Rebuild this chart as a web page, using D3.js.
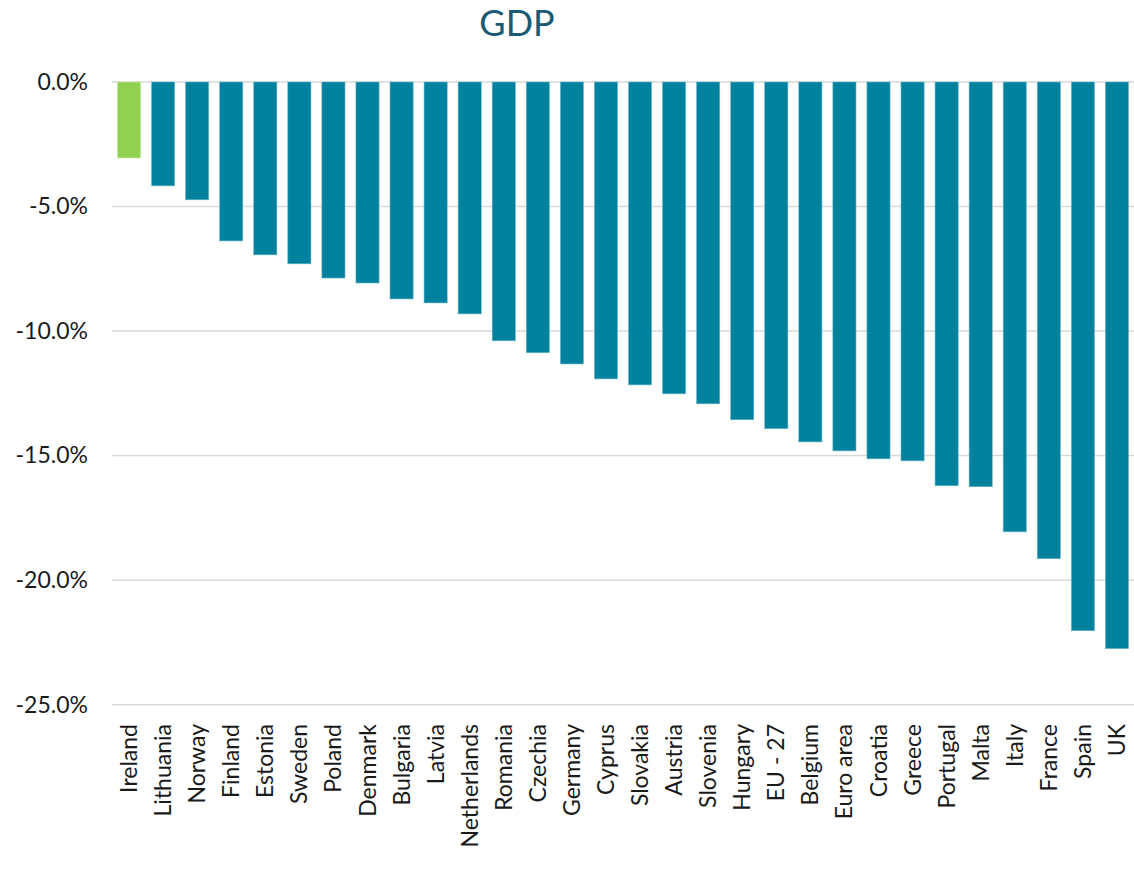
<!DOCTYPE html>
<html>
<head>
<meta charset="utf-8">
<script src="https://cdn.jsdelivr.net/npm/d3@7"></script>
<style>
  html, body { margin: 0; padding: 0; background: #fff; }
  svg { display: block; font-family: Lato, "Open Sans", sans-serif; }
</style>
</head>
<body>
<svg id="chart" width="1134" height="874"></svg>
<script>
// GDP change by country (%)
const countries = ["Ireland","Lithuania","Norway","Finland","Estonia","Sweden","Poland","Denmark","Bulgaria","Latvia","Netherlands","Romania","Czechia","Germany","Cyprus","Slovakia","Austria","Slovenia","Hungary","EU - 27","Belgium","Euro area","Croatia","Greece","Portugal","Malta","Italy","France","Spain","UK"];
const gdpChange = [-3.05,-4.17,-4.73,-6.38,-6.94,-7.30,-7.87,-8.07,-8.71,-8.87,-9.31,-10.39,-10.87,-11.32,-11.92,-12.16,-12.52,-12.92,-13.56,-13.92,-14.45,-14.81,-15.13,-15.21,-16.21,-16.25,-18.06,-19.14,-22.03,-22.75];
const yTicks = [0,-5,-10,-15,-20,-25];
const highlight = "Ireland";

const svg = d3.select("#chart");
const margin = {top: 82, left: 112, right: 0, bottom: 169};
const W = 1134, H = 874;

const x = d3.scaleBand()
  .domain(countries)
  .range([margin.left, W - margin.right])
  .paddingInner(0.32)
  .paddingOuter(0.16);

const y = d3.scaleLinear()
  .domain([0, -25])
  .range([margin.top, 704.7]);

// gridlines
svg.append("g")
  .selectAll("line")
  .data(yTicks)
  .join("line")
  .attr("x1", margin.left)
  .attr("x2", W)
  .attr("y1", d => y(d))
  .attr("y2", d => y(d))
  .attr("stroke", "#d9d9d9")
  .attr("stroke-width", 1.5);

// y axis labels
const yAxis = d3.axisLeft(y)
  .tickValues(yTicks)
  .tickFormat(d => d3.format(".1f")(d).replace("−", "-") + "%")
  .tickSize(0)
  .tickPadding(0);

svg.append("g")
  .attr("transform", `translate(88,0)`)
  .call(yAxis)
  .call(g => g.select(".domain").remove())
  .call(g => g.selectAll("text")
    .attr("font-size", 23)
    .attr("font-family", "Lato, sans-serif")
    .attr("fill", "#1a1a1a"));

// bars
svg.append("g")
  .selectAll("rect")
  .data(countries.map((c, i) => ({c, v: gdpChange[i]})))
  .join("rect")
  .attr("x", d => x(d.c))
  .attr("y", y(0))
  .attr("width", x.bandwidth())
  .attr("height", d => y(d.v) - y(0))
  .attr("fill", d => d.c === highlight ? "#92d050" : "#00829f")
  .attr("stroke", d => d.c === highlight ? "#c5ea9f" : "#6fb8c9")
  .attr("stroke-width", 0.6);

// category labels
const xAxis = d3.axisBottom(x).tickSize(0).tickPadding(0);
svg.append("g")
  .call(xAxis)
  .call(g => g.select(".domain").remove())
  .call(g => g.selectAll("text")
    .attr("font-size", 23)
    .attr("font-family", "Lato, sans-serif")
    .attr("fill", "#1a1a1a")
    .attr("text-anchor", "end")
    .attr("dy", null)
    .attr("y", null)
    .attr("transform", "translate(8,724) rotate(-90)"));

// title
svg.append("text")
  .attr("x", 517)
  .attr("y", 36)
  .attr("text-anchor", "middle")
  .attr("font-size", 36)
  .attr("font-family", "Lato, sans-serif")
  .attr("fill", "#1b5a73")
  .text("GDP");
</script>
</body>
</html>
